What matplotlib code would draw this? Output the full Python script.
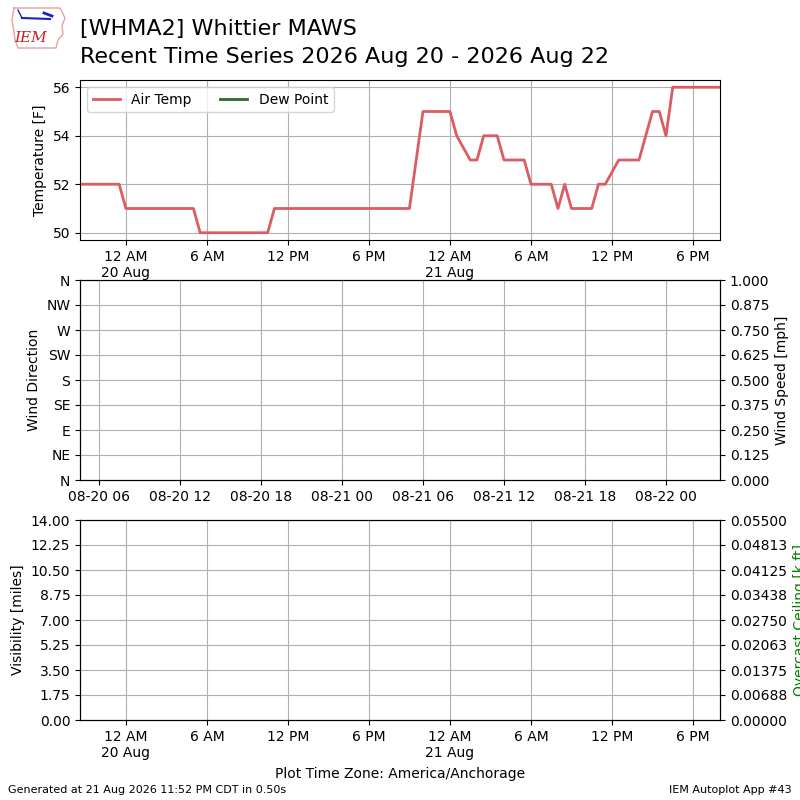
import datetime as dt
import numpy as np
import matplotlib
matplotlib.use("Agg")
import matplotlib.pyplot as plt
import matplotlib.dates as mdates
from matplotlib.ticker import FixedLocator, FuncFormatter

# ---------------- data (local time America/Anchorage) ----------------
obs_times = [
    "2026-08-19 20:36", "2026-08-19 23:30", "2026-08-20 00:00", "2026-08-20 05:00",
    "2026-08-20 05:30", "2026-08-20 10:30", "2026-08-20 11:00", "2026-08-20 21:00",
    "2026-08-20 22:00", "2026-08-21 00:00", "2026-08-21 00:30", "2026-08-21 01:30",
    "2026-08-21 02:00", "2026-08-21 02:30", "2026-08-21 03:30", "2026-08-21 04:00",
    "2026-08-21 05:30", "2026-08-21 06:00", "2026-08-21 07:30", "2026-08-21 08:00",
    "2026-08-21 08:30", "2026-08-21 09:00", "2026-08-21 10:30", "2026-08-21 11:00",
    "2026-08-21 11:30", "2026-08-21 12:30", "2026-08-21 14:00", "2026-08-21 15:00",
    "2026-08-21 15:30", "2026-08-21 16:00", "2026-08-21 16:30", "2026-08-21 20:00",
]
air_temp = [52, 52, 51, 51, 50, 50, 51, 51, 55, 55, 54, 53, 53, 54, 54, 53,
            53, 52, 52, 51, 52, 51, 51, 52, 52, 53, 53, 55, 55, 54, 56, 56]

temp_ticks = [50, 52, 54, 56]
dir_ticks = [0, 45, 90, 135, 180, 225, 270, 315, 360]
dir_labels = ["N", "NE", "E", "SE", "S", "SW", "W", "NW", "N"]
speed_ticks = [0.0, 0.125, 0.25, 0.375, 0.5, 0.625, 0.75, 0.875, 1.0]
vis_ticks = [0.0, 1.75, 3.5, 5.25, 7.0, 8.75, 10.5, 12.25, 14.0]
ceil_ticks = [0.0, 0.006875, 0.01375, 0.020625, 0.0275, 0.034375, 0.04125, 0.048125, 0.055]
utc_offset_hours = 8

times = [dt.datetime.strptime(s, "%Y-%m-%d %H:%M") for s in obs_times]
t0, t1 = times[0], times[-1]

W, H = 800, 800
fig = plt.figure(figsize=(8, 8), dpi=100)


def box(l, t, r, b):
    return [l / W, 1 - b / H, (r - l) / W, (b - t) / H]


def local_fmt(x, pos):
    d = mdates.num2date(x)
    if d.hour == 0:
        return "12 AM\n%d %s" % (d.day, d.strftime("%b"))
    h = d.hour % 12
    if h == 0:
        h = 12
    return "%d %s" % (h, "AM" if d.hour < 12 else "PM")


def style_local_x(ax):
    ax.set_xlim(t0, t1)
    ax.xaxis.set_major_locator(mdates.HourLocator(byhour=[0, 6, 12, 18]))
    ax.xaxis.set_major_formatter(FuncFormatter(local_fmt))


# ---------------- top panel ----------------
ax1 = fig.add_axes(box(80, 80, 720, 240))
ax1.plot(times, air_temp, color="#dc5c63", lw=2, label="Air Temp")
ax1.plot([], [], color="#2d6a2f", lw=2, label="Dew Point")
style_local_x(ax1)
ax1.set_ylim(49.7, 56.3)
ax1.set_yticks(temp_ticks)
ax1.set_ylabel("Temperature [F]")
ax1.grid(True)
ax1.legend(loc="upper left", ncol=2)

# ---------------- middle panel ----------------
ax2 = fig.add_axes(box(80, 280, 720, 480))
off = dt.timedelta(hours=utc_offset_hours)
ax2.set_xlim(t0 + off, t1 + off)
ax2.xaxis.set_major_locator(mdates.HourLocator(byhour=[0, 6, 12, 18]))
ax2.xaxis.set_major_formatter(mdates.DateFormatter("%m-%d %H"))
ax2.set_ylim(0, 360)
ax2.yaxis.set_major_locator(FixedLocator(dir_ticks))
ax2.set_yticklabels(dir_labels)
ax2.set_ylabel("Wind Direction")
ax2.grid(True)
ax2b = ax2.twinx()
ax2b.set_ylim(0, 1)
ax2b.set_yticks(speed_ticks)
ax2b.yaxis.set_major_formatter(FuncFormatter(lambda v, p: "%.3f" % v))
ax2b.set_ylabel("Wind Speed [mph]")

# ---------------- bottom panel ----------------
ax3 = fig.add_axes(box(80, 520, 720, 720))
style_local_x(ax3)
ax3.set_ylim(0, 14)
ax3.set_yticks(vis_ticks)
ax3.yaxis.set_major_formatter(FuncFormatter(lambda v, p: "%.2f" % v))
ax3.set_ylabel("Visibility [miles]")
ax3.grid(True)
ax3b = ax3.twinx()
ax3b.set_ylim(0, 0.055)
ax3b.set_yticks(ceil_ticks)
ax3b.yaxis.set_major_formatter(FuncFormatter(lambda v, p: "%.5f" % v))
ax3b.set_ylabel("Overcast Ceiling [k ft]", color="green")

# ---------------- texts ----------------
fig.text(80 / W, 1 - 29 / H, "[WHMA2] Whittier MAWS", fontsize=16, va="center")
fig.text(80 / W, 1 - 57 / H, "Recent Time Series 2026 Aug 20 - 2026 Aug 22",
         fontsize=16, va="center")
fig.text(0.5, 1 - 774 / H, "Plot Time Zone: America/Anchorage", ha="center",
         va="center", fontsize=10)
fig.text(8 / W, 1 - 790 / H, "Generated at 21 Aug 2026 11:52 PM CDT in 0.50s",
         fontsize=8, va="center")
fig.text(792 / W, 1 - 790 / H, "IEM Autoplot App #43", fontsize=8, va="center",
         ha="right")

# ---------------- logo (approximation) ----------------
lax = fig.add_axes(box(8, 4, 66, 50))
lax.set_xlim(0, 58)
lax.set_ylim(46, 0)
lax.axis("off")
outline_x = [6, 52, 54, 57, 54, 55, 50, 48, 10, 7, 6, 4, 6]
outline_y = [4, 4, 8, 14, 22, 30, 36, 44, 44, 36, 28, 16, 4]
lax.plot(outline_x, outline_y, color="#e8a0a0", lw=1)
lax.plot([14, 42], [14, 15], color="#2020c0", lw=1.5)
lax.plot([14, 10], [14, 6], color="#2020c0", lw=1)
lax.plot([36, 44], [9, 12], color="#2020c0", lw=2)
lax.text(23, 34, "IEM", color="#d02020", fontsize=11, style="italic",
         family="DejaVu Serif", ha="center", va="center")

fig.savefig("out.png", dpi=100)
